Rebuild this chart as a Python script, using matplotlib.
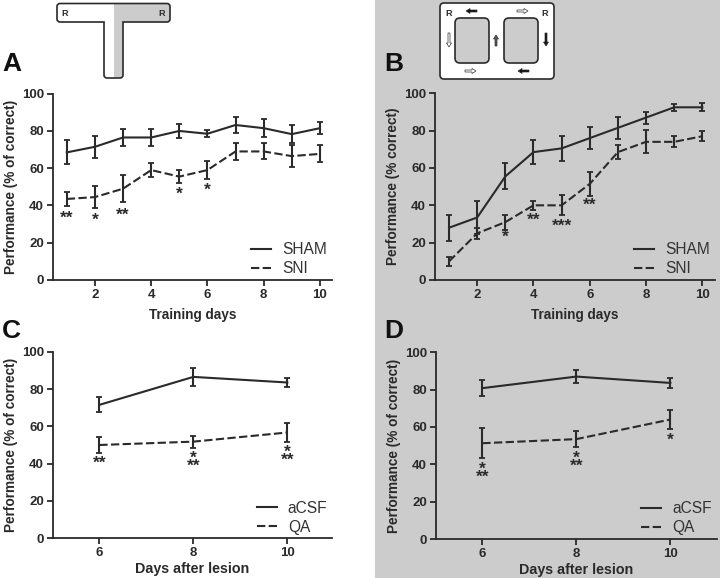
import matplotlib
matplotlib.use('Agg')
import matplotlib.pyplot as plt
from matplotlib.patches import Rectangle, FancyBboxPatch, PathPatch, FancyArrow
from matplotlib.path import Path

plt.rcParams['font.family'] = ['Liberation Sans', 'DejaVu Sans']

W, H = 720, 578
INK = '#2a2a2a'
GREY = '#cccccc'

days = [1, 2, 3, 4, 5, 6, 7, 8, 9, 10]
lesion_days = [6, 8, 10]

a_sham = [68.5, 71.5, 76.5, 76.5, 80, 78.5, 83.2, 81.5, 78.3, 81.5]
a_sham_err = [6.5, 6, 4.4, 4.4, 3.8, 1.8, 4.3, 5, 5, 3.3]
a_sni = [43.5, 44.5, 49, 59, 55.5, 59, 69, 69, 66.5, 67.7]
a_sni_err = [4, 5.7, 7.3, 3.8, 3.7, 4.8, 4.5, 4.3, 6, 4.5]
a_stars = [(1, 33, '**'), (2, 32, '*'), (3, 35, '**'), (5, 46, '*'), (6, 48, '*')]

b_sham = [28, 33.5, 55.5, 68.5, 70.5, 76, 81.5, 87, 92.5, 92.5]
b_sham_err = [7, 9, 7, 6.5, 6.5, 6, 6, 3.2, 1.8, 2.2]
b_sni = [10, 25, 31, 40, 40, 51.5, 68.5, 74, 74, 77]
b_sni_err = [2.5, 3, 4, 2.5, 5.3, 6.5, 3.7, 6.2, 3, 2.8]
b_stars = [(3, 23, '*'), (4, 32, '**'), (5, 29, '***'), (6, 40, '**')]

c_acsf = [71.5, 86.5, 83.5]
c_acsf_err = [4, 5, 2.2]
c_qa = [50, 51.8, 56.7]
c_qa_err = [4.5, 3.2, 5]
c_stars = [(6, 40, '**'), (8, 41, '*\n**'), (10, 44, '*\n**')]

d_acsf = [80.8, 87, 83.6]
d_acsf_err = [4.3, 3.5, 2.7]
d_qa = [51.3, 53.5, 64]
d_qa_err = [8, 4.3, 5]
d_stars = [(6, 35, '*\n**'), (8, 41, '*\n**'), (10, 53, '*')]


def make_axes(fig, left, right, top, bottom):
    # pixel box -> figure fraction
    ax = fig.add_axes([left / W, 1 - bottom / H, (right - left) / W, (bottom - top) / H])
    ax.patch.set_alpha(0)
    ax.spines['top'].set_visible(False)
    ax.spines['right'].set_visible(False)
    ax.spines['left'].set_linewidth(1.3)
    ax.spines['bottom'].set_linewidth(1.3)
    ax.spines['left'].set_color(INK)
    ax.spines['bottom'].set_color(INK)
    ax.set_ylim(0, 100)
    ax.set_yticks([0, 20, 40, 60, 80, 100])
    ax.tick_params(length=4.5, width=1.3, color=INK, labelsize=9.5, labelcolor=INK, pad=2)
    for lab in ax.get_xticklabels() + ax.get_yticklabels():
        lab.set_fontweight('bold')
    return ax


def draw_panel(ax, x, y1, e1, y2, e2, names, stars, xlabel, ylabel, xsize, xpad, legend_anchor):
    ax.errorbar(x, y1, yerr=e1, color=INK, lw=1.5, capsize=1.9, capthick=1.3, elinewidth=1.5, label=names[0])
    ax.errorbar(x, y2, yerr=e2, color=INK, lw=1.5, ls=(0, (4, 1.6)), capsize=1.9, capthick=1.3,
                elinewidth=1.5, label=names[1])
    for sx, sy, s in stars:
        ax.text(sx, sy, s, ha='center', va='center', fontsize=12.5, fontweight='bold', color=INK, linespacing=0.42)
    ax.set_ylabel(ylabel, fontsize=9.8, fontweight='bold', color=INK, labelpad=3)
    ax.set_xlabel(xlabel, fontsize=xsize, fontweight='bold', color=INK, labelpad=xpad)
    # errorbar containers would add a cap marker to the key, use plain lines
    keys = [plt.Line2D([], [], color=INK, lw=1.5), plt.Line2D([], [], color=INK, lw=1.5, ls=(0, (4, 1.6)))]
    leg = ax.legend(keys, names, loc='lower left', bbox_to_anchor=legend_anchor, frameon=False, fontsize=11.2,
                    handlelength=1.3, handletextpad=0.7, labelspacing=0.25, borderpad=0, borderaxespad=0)
    for t in leg.get_texts():
        t.set_color('#333333')


fig = plt.figure(figsize=(W / 100, H / 100), dpi=100, facecolor='white')

# overlay in pixel coords for the grey half, schematics and panel letters
bg = fig.add_axes([0, 0, 1, 1])
bg.set_xlim(0, W)
bg.set_ylim(H, 0)
bg.axis('off')
bg.add_patch(Rectangle((375, 0), W - 375, H, facecolor=GREY, edgecolor='none'))

for letter, lx, ly in [('A', 2, 64), ('B', 384, 64), ('C', 2, 331), ('D', 384, 331)]:
    bg.text(lx, ly, letter, fontsize=19, fontweight='bold', color='#111111', va='center', ha='left')

# T maze
r = 3
t_verts = [(57 + r, 3.5), (170 - r, 3.5), (170, 3.5), (170, 3.5 + r), (170, 22 - r), (170, 22), (170 - r, 22),
           (123, 22), (123, 78 - r), (123, 78), (123 - r, 78), (104 + r, 78), (104, 78), (104, 78 - r),
           (104, 22), (57 + r, 22), (57, 22), (57, 22 - r), (57, 3.5 + r), (57, 3.5), (57 + r, 3.5)]
t_codes = [Path.MOVETO, Path.LINETO, Path.CURVE3, Path.CURVE3, Path.LINETO, Path.CURVE3, Path.CURVE3,
           Path.LINETO, Path.LINETO, Path.CURVE3, Path.CURVE3, Path.LINETO, Path.CURVE3, Path.CURVE3,
           Path.LINETO, Path.LINETO, Path.CURVE3, Path.CURVE3, Path.LINETO, Path.CURVE3, Path.CURVE3]
t_path = Path(t_verts, t_codes)
bg.add_patch(PathPatch(t_path, facecolor='white', edgecolor='none'))
shade = Rectangle((113.5, 0), 60, 80, facecolor=GREY, edgecolor='none')
bg.add_patch(shade)
shade.set_clip_path(PathPatch(t_path, transform=bg.transData))
bg.add_patch(PathPatch(t_path, facecolor='none', edgecolor=INK, lw=1.2))
bg.text(65, 13, 'R', fontsize=6.5, fontweight='bold', color=INK, ha='center', va='center')
bg.text(161.5, 13, 'R', fontsize=6.5, fontweight='bold', color=INK, ha='center', va='center')

# double loop maze
bg.add_patch(FancyBboxPatch((445, 8), 104, 66, boxstyle='round,pad=5,rounding_size=4', facecolor='white',
                            edgecolor=INK, lw=1.2))
for bx in [459, 508]:
    bg.add_patch(FancyBboxPatch((bx, 22), 26, 37, boxstyle='round,pad=4,rounding_size=5', facecolor=GREY,
                                edgecolor=INK, lw=1.2))
bg.text(449, 13, 'R', fontsize=6.5, fontweight='bold', color=INK, ha='center', va='center')
bg.text(545, 13, 'R', fontsize=6.5, fontweight='bold', color=INK, ha='center', va='center')
# start x, start y, dx, dy, fill
arrows = [(477, 11, -11, 0, '#111111'), (517, 11, 11, 0, 'white'), (449, 33, 0, 14, 'white'),
          (496, 46, 0, -11, '#555555'), (546, 33, 0, 13, '#111111'), (465, 71, 11, 0, 'white'),
          (529, 71, -11, 0, '#111111')]
for ax0, ay0, dx, dy, fc in arrows:
    bg.add_patch(FancyArrow(ax0, ay0, dx, dy, width=2, head_width=5, head_length=4, length_includes_head=True,
                            facecolor=fc, edgecolor='#333333', lw=0.5))

ax_a = make_axes(fig, 53, 332, 93.7, 280)
ax_a.set_xlim(0.51, 10.43)
ax_a.set_xticks([2, 4, 6, 8, 10])
draw_panel(ax_a, days, a_sham, a_sham_err, a_sni, a_sni_err, ['SHAM', 'SNI'], a_stars, 'Training days',
           'Performance (% of correct)', 9.8, 5, (0.71, 0.02))

ax_b = make_axes(fig, 435, 715, 93.3, 280)
ax_b.set_xlim(0.5, 10.45)
ax_b.set_xticks([2, 4, 6, 8, 10])
draw_panel(ax_b, days, b_sham, b_sham_err, b_sni, b_sni_err, ['SHAM', 'SNI'], b_stars, 'Training days',
           'Performance (% correct)', 9.8, 5, (0.71, 0.02))

ax_c = make_axes(fig, 53, 332, 351.7, 538.3)
ax_c.set_xlim(5.015, 10.95)
ax_c.set_xticks(lesion_days)
draw_panel(ax_c, lesion_days, c_acsf, c_acsf_err, c_qa, c_qa_err, ['aCSF', 'QA'], c_stars, 'Days after lesion',
           'Performance (% of correct)', 10.3, 2, (0.73, 0.02))

ax_d = make_axes(fig, 436, 716.7, 352.3, 539)
ax_d.set_xlim(5.015, 10.985)
ax_d.set_xticks(lesion_days)
draw_panel(ax_d, lesion_days, d_acsf, d_acsf_err, d_qa, d_qa_err, ['aCSF', 'QA'], d_stars, 'Days after lesion',
           'Performance (% of correct)', 10.3, 2, (0.73, 0.02))

fig.savefig('out.png', dpi=100, facecolor=fig.get_facecolor())
